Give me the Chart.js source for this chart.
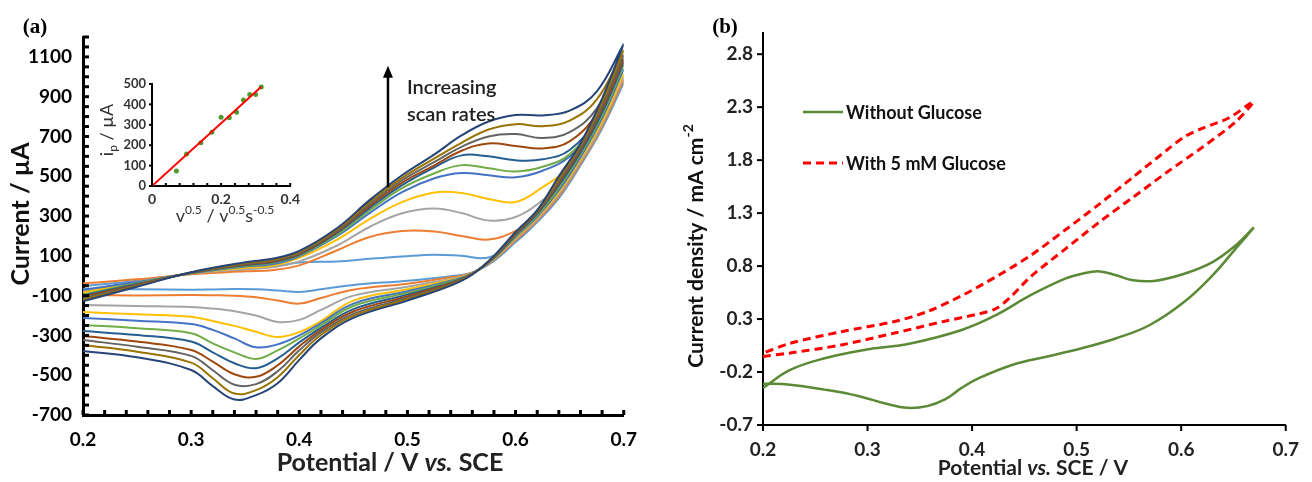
<!DOCTYPE html>
<html>
<head>
<meta charset="utf-8">
<script src="https://cdn.jsdelivr.net/npm/chart.js@4.4.0/dist/chart.umd.min.js"></script>
<style>
  html, body { margin: 0; padding: 0; background: #fff; }
  #wrap { position: relative; width: 1312px; height: 482px; overflow: hidden; }
  canvas { position: absolute; top: 0; }
  #cv-a { left: 0; }
  #cv-b { left: 650px; }
  #inset { left: 95px; top: 70px; }
</style>
</head>
<body>
<div id="wrap">
  <canvas id="cv-a" width="650" height="482"></canvas>
  <canvas id="cv-b" width="662" height="482"></canvas>
  <canvas id="inset" width="210" height="160"></canvas>
</div>
<script>
// ---- (a) CVs at increasing scan rate (mV/s), current in uA ----
const scanRates = [5, 10, 20, 30, 40, 50, 60, 70, 80, 90, 100];
const scanColors = ['#5B9BD5', '#ED7D31', '#A5A5A5', '#FFC000', '#4472C4', '#70AD47',
                    '#255E91', '#9E480E', '#636363', '#997300', '#264478'];

// anodic sweep potentials, then cathodic sweep potentials (V vs SCE)
const fwdPotential = [0.2, 0.25, 0.3, 0.35, 0.375, 0.4, 0.435, 0.465, 0.495, 0.525, 0.55, 0.575, 0.6, 0.625, 0.65, 0.675, 0.7];
const revPotential = [0.7, 0.68, 0.66, 0.64, 0.62, 0.6, 0.58, 0.56, 0.54, 0.5, 0.45, 0.42, 0.4, 0.38, 0.36, 0.34, 0.32, 0.3, 0.25, 0.2];

const fwdCurrent = [
  [-52, -25, 10, 32, 45, 66, 72, 85, 97, 106, 100, 92, 170, 300, 472, 695, 970],
  [-38, -18, 8, 22, 28, 52, 128, 195, 225, 222, 200, 182, 225, 315, 485, 700, 985],
  [-78, -30, 10, 34, 42, 72, 152, 245, 314, 338, 315, 278, 295, 380, 505, 710, 1000],
  [-85, -33, 11, 40, 50, 90, 182, 285, 370, 418, 416, 386, 371, 445, 545, 725, 1015],
  [-70, -32, 12, 46, 58, 98, 200, 315, 420, 490, 516, 505, 495, 528, 600, 760, 1040],
  [-95, -38, 13, 50, 64, 102, 206, 328, 440, 515, 556, 540, 524, 548, 610, 780, 1060],
  [-100, -42, 14, 54, 68, 106, 215, 340, 455, 545, 605, 600, 580, 585, 632, 790, 1075],
  [-106, -45, 15, 57, 72, 110, 222, 350, 468, 555, 628, 665, 652, 640, 675, 815, 1090],
  [-112, -48, 16, 60, 76, 115, 228, 360, 480, 572, 648, 700, 712, 692, 722, 840, 1110],
  [-120, -52, 17, 64, 80, 120, 234, 370, 492, 590, 668, 735, 762, 752, 780, 885, 1135],
  [-128, -55, 18, 68, 85, 125, 240, 380, 505, 610, 705, 775, 808, 806, 830, 926, 1165]
];
const revCurrent = [
  [970, 740, 555, 390, 270, 170, 75, 16, -2, -25, -46, -68, -82, -74, -68, -67, -69, -70, -68, -66],
  [985, 752, 565, 400, 278, 178, 80, 15, -8, -40, -70, -112, -140, -125, -108, -100, -98, -97, -99, -97],
  [1000, 765, 575, 410, 285, 185, 84, 14, -15, -55, -100, -172, -222, -232, -200, -178, -165, -157, -152, -147],
  [1015, 778, 585, 420, 292, 190, 86, 13, -20, -68, -125, -228, -283, -308, -282, -252, -228, -206, -194, -182],
  [1040, 792, 596, 430, 298, 195, 88, 12, -25, -78, -140, -238, -300, -345, -360, -315, -272, -243, -226, -212],
  [1060, 806, 608, 442, 305, 200, 90, 11, -30, -86, -152, -250, -315, -375, -418, -385, -340, -289, -264, -247],
  [1075, 820, 620, 455, 312, 205, 92, 10, -35, -95, -168, -262, -335, -415, -465, -440, -385, -331, -298, -278],
  [1090, 836, 632, 466, 318, 210, 94, 9, -38, -103, -180, -273, -355, -450, -508, -495, -432, -373, -331, -303],
  [1110, 852, 642, 477, 323, 214, 96, 8, -42, -111, -192, -285, -375, -480, -545, -548, -475, -403, -357, -323],
  [1135, 870, 654, 488, 327, 217, 98, 7, -46, -118, -202, -298, -398, -510, -575, -592, -515, -437, -382, -348],
  [1165, 890, 665, 500, 330, 220, 100, 6, -50, -125, -212, -315, -423, -540, -600, -622, -555, -474, -410, -378]
];

const xTicksA = [0.2, 0.3, 0.4, 0.5, 0.6, 0.7];
const yTicksA = [-700, -500, -300, -100, 100, 300, 500, 700, 900, 1100];

// ---- inset: peak current vs sqrt(scan rate) ----
const sqrtRate = [0, 0.0707, 0.1, 0.1414, 0.1732, 0.2, 0.2236, 0.2449, 0.2646, 0.2828, 0.3, 0.3162];
const peakCurrent = [0, 73, 157, 212, 263, 337, 335, 361, 422, 449, 449, 485];
const fitX = [0, 0.3162];
const fitY = [0, 487];
const xTicksIn = [0, 0.2, 0.4];
const yTicksIn = [0, 100, 200, 300, 400, 500];

// ---- (b) current density, mA cm-2 ----
const noGlucoseV = [0.2, 0.226, 0.259, 0.298, 0.341, 0.39, 0.423, 0.456, 0.489, 0.505, 0.522, 0.538, 0.554, 0.574, 0.603, 0.63, 0.652, 0.669,
                    0.652, 0.63, 0.603, 0.57, 0.538, 0.505, 0.472, 0.439, 0.407, 0.39, 0.374, 0.357, 0.338, 0.318, 0.292, 0.259, 0.226, 0.2];
const noGlucoseJ = [-0.35, -0.18, -0.07, 0.01, 0.07, 0.197, 0.338, 0.525, 0.681, 0.728, 0.75, 0.713, 0.666, 0.66, 0.728, 0.838, 0.994, 1.16,
                    0.963, 0.713, 0.463, 0.244, 0.119, 0.025, -0.053, -0.131, -0.256, -0.35, -0.459, -0.522, -0.538, -0.5, -0.428, -0.366, -0.319, -0.31];
const glucoseV = [0.2, 0.226, 0.275, 0.325, 0.374, 0.407, 0.423, 0.436, 0.456, 0.489, 0.521, 0.554, 0.587, 0.62, 0.652, 0.669,
                  0.646, 0.62, 0.603, 0.587, 0.554, 0.521, 0.489, 0.456, 0.423, 0.39, 0.357, 0.325, 0.275, 0.226, 0.2];
const glucoseJ = [-0.053, -0.02, 0.056, 0.166, 0.28, 0.35, 0.4, 0.5, 0.7, 0.96, 1.21, 1.45, 1.69, 1.92, 2.16, 2.353,
                  2.2, 2.1, 2.02, 1.9, 1.64, 1.38, 1.14, 0.9, 0.7, 0.52, 0.37, 0.275, 0.181, 0.072, -0.022];
const xTicksB = [0.2, 0.3, 0.4, 0.5, 0.6, 0.7];
const yTicksB = [-0.7, -0.2, 0.3, 0.8, 1.3, 1.8, 2.3, 2.8];

const FONT = 'Lato, "Open Sans", sans-serif';

// draws a centred run of text pieces, each with its own font and baseline shift
function richText(ctx, parts, x, y, angle) {
  ctx.save();
  ctx.translate(x, y);
  ctx.rotate(angle || 0);
  ctx.textBaseline = 'middle';
  ctx.textAlign = 'left';
  let total = 0;
  parts.forEach(p => { ctx.font = p.font; total += ctx.measureText(p.text).width; });
  let cx = -total / 2;
  parts.forEach(p => {
    ctx.font = p.font;
    ctx.fillStyle = p.color || '#111';
    ctx.fillText(p.text, cx, p.dy || 0);
    cx += ctx.measureText(p.text).width;
  });
  ctx.restore();
}

// short tick marks on the axis lines, positioned through the scales
function drawTicks(chart, cfg) {
  const ctx = chart.ctx;
  const xs = chart.scales.x, ys = chart.scales.y;
  const bottom = ys.bottom, left = xs.left;
  const w = cfg.width;
  ctx.save();
  ctx.fillStyle = '#000000';
  for (let i = 0; i < cfg.x.length; i++) {
    const px = xs.getPixelForValue(cfg.x[i]);
    const top = cfg.xLen < 0 ? bottom + cfg.xLen : bottom;
    ctx.fillRect(px - w / 2, top, w, Math.abs(cfg.xLen));
  }
  for (let i = 0; i < cfg.y.length; i++) {
    const py = ys.getPixelForValue(cfg.y[i]);
    const lft = cfg.yLen < 0 ? left + cfg.yLen : left;
    ctx.fillRect(lft, py - w / 2, Math.abs(cfg.yLen), w);
  }
  ctx.restore();
}

function stepList(from, to, step, digits) {
  const out = [];
  for (let v = from; v <= to + step / 2; v += step) out.push(+v.toFixed(digits));
  return out;
}

// ---------- panel (a) ----------
const cvSets = scanRates.map((rate, i) => ({
  label: rate + ' mV/s',
  data: fwdPotential.map((v, k) => ({ x: v, y: fwdCurrent[i][k] }))
        .concat(revPotential.map((v, k) => ({ x: v, y: revCurrent[i][k] }))),
  borderColor: scanColors[i],
  borderWidth: 2,
  showLine: true,
  pointRadius: 0,
  tension: 0.4,
  order: scanRates.length - 1 - i
}));

const ticksA = { x: stepList(0.2, 0.7, 0.02, 2), y: stepList(-700, 1200, 50, 0), xLen: -5, yLen: 6, width: 3 };

const panelADecor = {
  id: 'panelADecor',
  afterDraw(chart) {
    const ctx = chart.ctx;
    const xs = chart.scales.x, ys = chart.scales.y;
    richText(ctx, [{ text: '(a)', font: 'bold 21px "Liberation Serif", serif', color: '#000' }], 35, 28);
    richText(ctx, [{ text: 'Current / \u00b5A', font: 'bold 25px ' + FONT, color: '#111' }], 21, 214, -Math.PI / 2);
    richText(ctx, [
      { text: 'Potential / V ', font: 'bold 25px ' + FONT, color: '#222' },
      { text: 'vs.', font: 'italic bold 25px ' + FONT, color: '#222' },
      { text: ' SCE', font: 'bold 25px ' + FONT, color: '#222' }
    ], 390, 463);
    // arrow showing the trend with scan rate
    const ax = xs.getPixelForValue(0.482);
    const y0 = ys.getPixelForValue(445), y1 = ys.getPixelForValue(1040);
    ctx.save();
    ctx.strokeStyle = '#000';
    ctx.fillStyle = '#000';
    ctx.lineWidth = 2.5;
    ctx.beginPath();
    ctx.moveTo(ax, y0);
    ctx.lineTo(ax, y1 + 8);
    ctx.stroke();
    ctx.beginPath();
    ctx.moveTo(ax, y1 - 3);
    ctx.lineTo(ax - 5, y1 + 9);
    ctx.lineTo(ax + 5, y1 + 9);
    ctx.closePath();
    ctx.fill();
    ctx.font = '600 20px ' + FONT;
    ctx.fillStyle = '#222';
    ctx.textBaseline = 'middle';
    ctx.fillText('Increasing', ax + 19, 88);
    ctx.fillText('scan rates', ax + 19, 115);
    ctx.restore();
    drawTicks(chart, ticksA);
  }
};

new Chart(document.getElementById('cv-a'), {
  type: 'scatter',
  data: { datasets: cvSets },
  options: {
    responsive: false,
    animation: false,
    layout: { padding: { left: 0, top: 37, right: 25, bottom: 0 } },
    plugins: { legend: { display: false }, tooltip: { enabled: false } },
    scales: {
      x: {
        type: 'linear', min: 0.2, max: 0.7,
        afterBuildTicks: s => { s.ticks = xTicksA.map(v => ({ value: v })); },
        afterFit: s => { s.height = 67; },
        grid: { display: false, drawTicks: false },
        border: { display: true, color: '#000', width: 3 },
        ticks: { padding: 13, color: '#000', font: { family: FONT, size: 19, weight: 'bold' },
                 callback: v => v.toFixed(1), maxRotation: 0 }
      },
      y: {
        type: 'linear', min: -700, max: 1200,
        afterBuildTicks: s => { s.ticks = yTicksA.map(v => ({ value: v })); },
        afterFit: s => { s.width = 83; },
        grid: { display: false, drawTicks: false },
        border: { display: true, color: '#000', width: 3 },
        ticks: { padding: 11, color: '#000', font: { family: FONT, size: 19, weight: 'bold' },
                 callback: v => String(v) }
      }
    }
  },
  plugins: [panelADecor]
});

// ---------- inset ----------
const ticksIn = { x: stepList(0, 0.4, 0.04, 2), y: yTicksIn, xLen: -3, yLen: -3, width: 2 };

const insetDecor = {
  id: 'insetDecor',
  afterDraw(chart) {
    const ctx = chart.ctx;
    richText(ctx, [
      { text: 'i', font: '18px ' + FONT, color: '#333' },
      { text: 'p', font: '12px ' + FONT, color: '#333', dy: 6 },
      { text: ' / \u00b5A', font: '18px ' + FONT, color: '#333' }
    ], 12, 60, -Math.PI / 2);
    richText(ctx, [
      { text: 'v', font: '18px ' + FONT, color: '#333' },
      { text: '0.5', font: '12px ' + FONT, color: '#333', dy: -6 },
      { text: ' / v', font: '18px ' + FONT, color: '#333' },
      { text: '0.5', font: '12px ' + FONT, color: '#333', dy: -6 },
      { text: 's', font: '18px ' + FONT, color: '#333' },
      { text: '-0.5', font: '12px ' + FONT, color: '#333', dy: -6 }
    ], 130, 146);
    drawTicks(chart, ticksIn);
  }
};

new Chart(document.getElementById('inset'), {
  type: 'scatter',
  data: {
    datasets: [
      { label: 'fit', data: fitX.map((x, k) => ({ x, y: fitY[k] })), showLine: true,
        borderColor: '#ff0000', borderWidth: 2, pointRadius: 0, order: 0 },
      { label: 'ip', data: sqrtRate.map((x, k) => ({ x, y: peakCurrent[k] })),
        backgroundColor: '#4f9a30', borderWidth: 0, pointRadius: 2.5, order: 1 }
    ]
  },
  options: {
    responsive: false,
    animation: false,
    layout: { padding: { left: 0, top: 14, right: 13, bottom: 0 } },
    plugins: { legend: { display: false }, tooltip: { enabled: false } },
    scales: {
      x: {
        type: 'linear', min: 0, max: 0.4,
        afterBuildTicks: s => { s.ticks = xTicksIn.map(v => ({ value: v })); },
        afterFit: s => { s.height = 44; },
        grid: { display: false, drawTicks: false },
        border: { display: true, color: '#000', width: 2 },
        ticks: { padding: 5, color: '#333', font: { family: FONT, size: 14, weight: 'bold' },
                 callback: v => (v === 0 ? '0' : v.toFixed(1)), maxRotation: 0 }
      },
      y: {
        type: 'linear', min: 0, max: 500,
        afterBuildTicks: s => { s.ticks = yTicksIn.map(v => ({ value: v })); },
        afterFit: s => { s.width = 57; },
        grid: { display: false, drawTicks: false },
        border: { display: true, color: '#000', width: 2 },
        ticks: { padding: 6, color: '#333', font: { family: FONT, size: 13, weight: 'bold' } }
      }
    }
  },
  plugins: [insetDecor]
});

// ---------- panel (b) ----------
const ticksB = { x: xTicksB, y: yTicksB, xLen: 6, yLen: -6, width: 2 };

const panelBDecor = {
  id: 'panelBDecor',
  afterDraw(chart) {
    const ctx = chart.ctx;
    richText(ctx, [{ text: '(b)', font: 'bold 21px "Liberation Serif", serif', color: '#000' }], 75, 28);
    richText(ctx, [
      { text: 'Current density / mA cm', font: 'bold 21px ' + FONT, color: '#111' },
      { text: '-2', font: 'bold 14px ' + FONT, color: '#111', dy: -8 }
    ], 46, 246, -Math.PI / 2);
    richText(ctx, [
      { text: 'Potential ', font: 'bold 21px ' + FONT, color: '#222' },
      { text: 'vs.', font: 'italic bold 21px ' + FONT, color: '#222' },
      { text: ' SCE / V', font: 'bold 21px ' + FONT, color: '#222' }
    ], 383, 468);
    // legend inside the plot
    ctx.save();
    chart.data.datasets.forEach((ds, k) => {
      const y = 112 + k * 51;
      ctx.strokeStyle = ds.borderColor;
      ctx.lineWidth = ds.borderWidth;
      ctx.setLineDash(ds.borderDash || []);
      ctx.beginPath();
      ctx.moveTo(153, y);
      ctx.lineTo(193, y);
      ctx.stroke();
      ctx.setLineDash([]);
      ctx.font = 'bold 18px ' + FONT;
      ctx.fillStyle = '#111';
      ctx.textBaseline = 'middle';
      ctx.fillText(ds.label, 196, y + 1);
    });
    ctx.restore();
    drawTicks(chart, ticksB);
  }
};

new Chart(document.getElementById('cv-b'), {
  type: 'scatter',
  data: {
    datasets: [
      { label: 'Without Glucose', data: noGlucoseV.map((x, k) => ({ x, y: noGlucoseJ[k] })),
        showLine: true, borderColor: '#5a8a36', borderWidth: 2.5, pointRadius: 0, tension: 0.4 },
      { label: 'With 5 mM Glucose', data: glucoseV.map((x, k) => ({ x, y: glucoseJ[k] })),
        showLine: true, borderColor: '#ff0000', borderWidth: 3, borderDash: [8, 5], pointRadius: 0, tension: 0.3 }
    ]
  },
  options: {
    responsive: false,
    animation: false,
    layout: { padding: { left: 0, top: 33, right: 10, bottom: 0 } },
    plugins: { legend: { display: false }, tooltip: { enabled: false } },
    scales: {
      x: {
        type: 'linear', min: 0.2, max: 0.7,
        afterBuildTicks: s => { s.ticks = xTicksB.map(v => ({ value: v })); },
        afterFit: s => { s.height = 57; },
        grid: { display: false, drawTicks: false },
        border: { display: true, color: '#000', width: 2 },
        ticks: { padding: 13, color: '#222', font: { family: FONT, size: 19, weight: 'bold' },
                 callback: v => v.toFixed(1), maxRotation: 0 }
      },
      y: {
        type: 'linear', min: -0.7, max: 3.0,
        afterBuildTicks: s => { s.ticks = yTicksB.map(v => ({ value: v })); },
        afterFit: s => { s.width = 113; },
        grid: { display: false, drawTicks: false },
        border: { display: true, color: '#000', width: 2 },
        ticks: { padding: 10, color: '#222', font: { family: FONT, size: 19, weight: 'bold' },
                 callback: v => v.toFixed(1) }
      }
    }
  },
  plugins: [panelBDecor]
});
</script>
</body>
</html>
